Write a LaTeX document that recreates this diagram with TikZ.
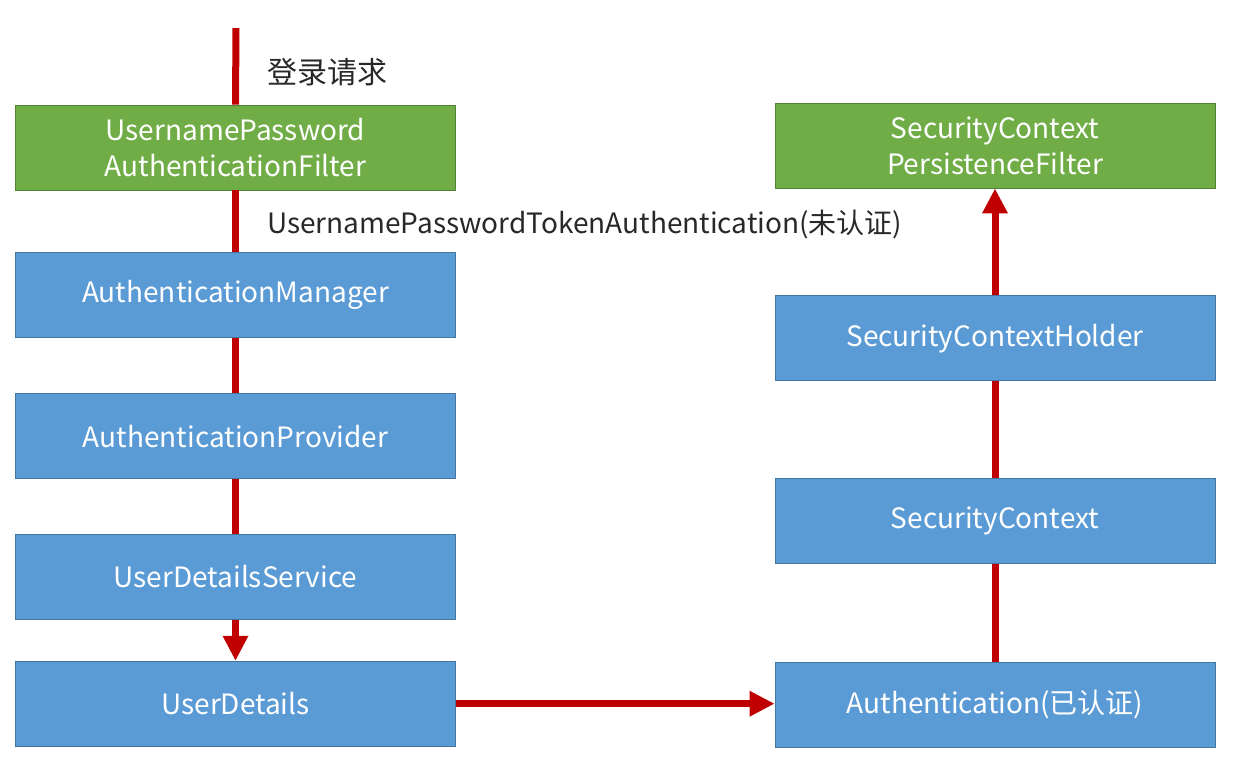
\documentclass[tikz,border=0pt]{standalone}
\usepackage{fontspec}
\setmainfont{Noto Sans CJK SC}
\usetikzlibrary{positioning}
\usetikzlibrary{arrows.meta}

\definecolor{filtergreen}{RGB}{112,173,71}
\definecolor{compblue}{RGB}{91,155,213}
\definecolor{flowred}{RGB}{192,0,0}
\definecolor{labelgray}{RGB}{40,40,40}

\tikzset{
  filterbox/.style={draw=filtergreen!75!black, fill=filtergreen, text=white,
    minimum width=220pt, minimum height=42.5pt, align=center,
    font=\fontsize{14}{18}\selectfont},
  compbox/.style={filterbox, draw=compblue!75!black, fill=compblue},
  flow/.style={draw=flowred, line width=3.5pt},
  flowarrow/.style={flow, -{Triangle[length=12.5pt,width=12pt]}},
  flowlabel/.style={anchor=west, text=labelgray, font=\fontsize{14}{18}\selectfont},
}

\begin{document}
\begin{tikzpicture}[x=0.5pt,y=-0.5pt,node distance=0]
    \useasboundingbox (0,0) rectangle (1255,768);
    % Place nodes
    \coordinate (req) at (236,28);
    \node [filterbox] (upaf) at (235.5,147.5) {UsernamePassword\\AuthenticationFilter};
    \node [compbox, below=31pt of upaf] (mgr) {AuthenticationManager};
    \node [compbox, below=27.5pt of mgr] (prov) {AuthenticationProvider};
    \node [compbox, below=27.5pt of prov] (uds) {UserDetailsService};
    \node [compbox, below=20.5pt of uds] (ud) {UserDetails};

    \node [filterbox] (scpf) at (995,145.5) {SecurityContext\\PersistenceFilter};
    \node [compbox, below=53.5pt of scpf] (sch) {SecurityContextHolder};
    \node [compbox, below=48.5pt of sch] (sc) {SecurityContext};
    \node [compbox, below=49pt of sc] (auth) {Authentication(已认证)};

    \node [flowlabel, font=\fontsize{15}{18}\selectfont] (reqtext) at (260,72) {登录请求};
    \node [flowlabel] (token) at (260,224) {UsernamePasswordTokenAuthentication(未认证)};

    % Connectors
    \draw [flow] (req) -- (upaf.north);
    \draw [flow] (upaf) -- (mgr);
    \draw [flow] (mgr) -- (prov);
    \draw [flow] (prov) -- (uds);
    \draw [flowarrow] (uds) -- (ud);
    \draw [flowarrow] (ud.east) -- (ud.east -| auth.west);
    \draw [flow] (auth) -- (sc);
    \draw [flow] (sc) -- (sch);
    \draw [flowarrow] (sch) -- (scpf);
\end{tikzpicture}
\end{document}
